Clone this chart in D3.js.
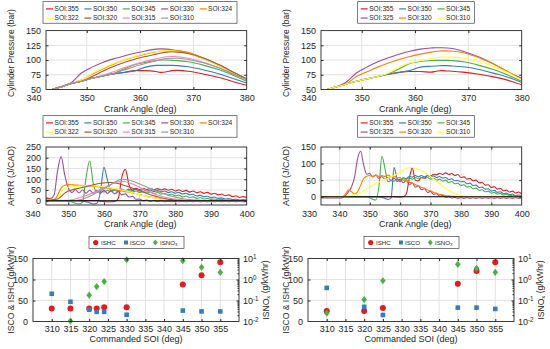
<!DOCTYPE html>
<html>
<head>
<meta charset="utf-8">
<script src="https://cdn.jsdelivr.net/npm/d3@7"></script>
<style>
  body { margin: 0; background: #fff; }
  svg { font-family: "Liberation Sans", Arial, sans-serif; background: #fff; }
</style>
</head>
<body>
<svg id="chart" width="550" height="349"></svg>
<script>
// Colours used in the figure
var cRed = "#e41a1c", cBlue = "#377eb8", cGreen = "#4daf4a", cPurple = "#984ea3",
    cOrange = "#ff7f00", cYellow = "#ffff33", cBrown = "#a65628", cPink = "#f781bf", cGrey = "#999999";
var axisColor = "#262626", gridColor = "#e2e2e2";
var fontFam = "'Liberation Sans', Arial, sans-serif";

// ---------- Cylinder pressure (bar) vs crank angle ----------
var pressCA = [343.5, 345, 347, 349, 351, 353, 355, 357, 359, 361, 363, 364, 365, 366, 367, 369, 372, 375, 378, 380];

var p1_355 = [50, 54, 60, 64, 69, 73, 76.5, 79, 82, 82, 80.5, 79, 80, 82, 82.5, 81, 76, 70, 62, 57];
var p1_350 = [50, 54, 60, 64, 69, 73, 76.5, 79, 81.5, 88, 91, 91, 91, 91, 90.5, 88.5, 83, 76, 67, 61];
var p1_345 = [50, 54, 60, 64, 69, 73, 77, 85, 92, 96, 99, 100, 100, 99.5, 99, 97, 91, 83, 72, 64];
var p1_330 = [50, 54, 61, 78, 88, 96, 102, 107, 111.5, 115.5, 118.5, 119, 118.5, 117.5, 116, 111.5, 102, 90, 76, 68];
var p1_324 = [50, 54, 60, 66, 76, 85, 93, 100, 105.5, 110, 114, 115.5, 116.5, 116.5, 116, 113, 103, 91, 77, 68];
var p1_322 = [50, 54, 60, 66, 77, 86, 94, 100.5, 106, 111, 114.5, 115.5, 116, 115.5, 114.5, 111, 102, 90, 76, 67];
var p1_320 = [50, 54, 60, 64, 72, 81, 89, 96, 101.5, 106, 110, 112, 113.5, 114, 113.5, 111, 103, 91, 77, 68];
var p1_315 = [50, 54, 60, 64, 69, 74, 80, 87, 93, 98, 102, 104, 105.5, 106, 105.5, 103, 96, 86, 74, 66];
var p1_310 = [50, 54, 60, 64, 69, 73, 77, 83, 89, 94, 99, 101, 102.5, 103, 103, 101, 95, 86, 74, 67];

var p2_355 = [50, 54, 59, 64, 68, 72, 76, 79, 80.5, 80.5, 79.5, 81, 82, 81.5, 81, 79.5, 76, 71, 64, 58];
var p2_350 = [50, 54, 59, 64, 68, 72, 76, 79, 82, 88, 89.5, 90, 90.5, 90.5, 90, 88.5, 84, 77, 69, 62];
var p2_345 = [50, 54, 59, 64, 68, 72, 77, 85, 94, 97.5, 99, 99.5, 99.5, 99.5, 99, 97, 91, 83, 72, 64];
var p2_325 = [50, 54, 62, 78, 88, 97, 104, 110, 115, 118.5, 120.5, 121, 121, 120.5, 119.5, 115, 105, 92, 77, 69];
var p2_320 = [50, 54, 59, 72, 80, 88, 95, 101, 106, 110, 113.5, 115, 115.5, 115.5, 115, 112.5, 104, 92, 77, 67];
var p2_310 = [50, 54, 59, 64, 68, 72, 78, 88, 95, 99, 102.5, 104, 105, 105, 105, 103.5, 97, 88, 76, 66];

// ---------- Apparent heat release rate (J/CAD), 1 deg grid ----------
var caMidL = d3.range(340, 401);   // 340..400
var caMidR = d3.range(330, 401);   // 330..400

var h1_355 = [0, 0, 0, 0, 0, 0, 0, 0, 0, 0,
  0, 0, 0, 0, 0, 0, 0, 0, 0, -2,
  -4, -5, -5, -4, 10, 110, 146, 75, 50, 58,
  52, 58, 52, 57, 51, 56, 50, 55, 49, 53,
  45, 51, 43, 48, 40, 45, 37, 42, 34, 39,
  30, 35, 27, 31, 23, 27, 19, 23, 15, 19,
  14];
var h1_350 = [0, 0, 0, 0, 0, 0, 0, 0, 0, 0,
  0, 0, 0, 0, -2, -5, -10, -15, -12, 40,
  155, 95, 45, 52, 46, 54, 47, 54, 47, 53,
  46, 52, 45, 50, 43, 48, 41, 45, 38, 42,
  35, 39, 31, 35, 27, 30, 22, 25, 18, 21,
  14, 17, 11, 13, 8, 10, 5, 7, 3, 5,
  3];
var h1_345 = [0, 0, 0, 0, 0, 0, 0, 0, 0, 0,
  -2, -6, -12, -15, -8, 110, 185, 80, 40, 47,
  41, 48, 42, 49, 42, 48, 41, 47, 40, 45,
  38, 44, 36, 41, 33, 38, 30, 34, 26, 30,
  23, 26, 18, 22, 14, 18, 11, 14, 8, 11,
  6, 8, 4, 6, 2, 4, 1, 3, 0, 2,
  0];
var h1_330 = [0, 0, 2, 8, 12, 10, 25, 140, 205, 120,
  60, 38, 52, 36, 50, 35, 49, 35, 48, 35,
  48, 34, 46, 32, 42, 27, 32, 17, 20, 7,
  8, 0, 3, -3, 0, -4, -1, -5, -2, -5,
  -3, -5, -3, -5, -3, -5, -3, -5, -3, -5,
  -3, -5, -3, -5, -3, -5, -3, -5, -3, -5,
  -3];
var h1_324 = [0, 0, 2, 8, 12, 8, 5, 25, 60, 72,
  75, 74, 73, 72, 71, 70, 69, 67, 65, 63,
  61, 58, 55, 52, 49, 46, 43, 40, 36, 32,
  28, 24, 20, 17, 14, 11, 8, 6, 4, 3,
  2, 1, 1, 0, 0, 0, 0, 0, 0, 0,
  0, 0, 0, 0, 0, 0, 0, 0, 0, 0,
  0];
var h1_322 = [0, 0, 0, 0, 2, 3, 2, 10, 40, 58,
  63, 65, 66, 68, 69, 70, 70, 70, 69, 67,
  65, 62, 60, 57, 54, 50, 46, 42, 37, 33,
  28, 24, 20, 16, 13, 10, 7, 5, 3, 2,
  1, 0, 0, 0, 0, 0, 0, 0, 0, 0,
  0, 0, 0, 0, 0, 0, 0, 0, 0, 0,
  0];
var h1_320 = [0, 0, 0, 5, 10, 8, 5, 8, 20, 35,
  45, 50, 55, 58, 62, 66, 70, 74, 78, 81,
  83, 85, 85, 83, 80, 75, 70, 64, 58, 52,
  46, 40, 34, 28, 23, 18, 14, 10, 7, 5,
  3, 2, 1, 0, 0, 0, 0, 0, 0, 0,
  0, 0, 0, 0, 0, 0, 0, 0, 0, 0,
  0];
var h1_315 = [0, 0, 0, 2, 4, 3, 2, 2, 2, 2,
  2, 4, 8, 13, 18, 24, 30, 37, 44, 52,
  60, 68, 76, 83, 88, 90, 88, 84, 78, 71,
  63, 55, 47, 40, 33, 27, 22, 17, 13, 10,
  7, 5, 4, 3, 2, 1, 0, 0, 0, 0,
  0, 0, 0, 0, 0, 0, 0, 0, 0, 0,
  0];
var h1_310 = [0, 0, 0, 1, 2, 2, 1, 1, 1, 1,
  1, 1, 1, 3, 8, 14, 21, 29, 38, 47,
  56, 66, 76, 86, 95, 100, 99, 96, 91, 85,
  78, 71, 64, 57, 50, 43, 37, 31, 26, 21,
  17, 13, 10, 7, 5, 4, 3, 2, 1, 0,
  0, 0, 0, 0, 0, 0, 0, 0, 0, 0,
  0];

var h2_355 = [0, 0, 0, 0, 0, 0, 0, 0, 0, 0,
  0, 0, 0, 0, 0, 0, 0, 0, 0, 0,
  0, 0, 0, 0, 0, 0, 0, 0, 0, -1,
  -1, 0, 8, 55, 87, 50, 48, 58, 56, 64,
  62, 68, 66, 71, 67, 72, 67, 70, 64, 67,
  58, 60, 53, 55, 48, 50, 42, 43, 35, 36,
  28, 30, 23, 25, 18, 20, 14, 17, 11, 14,
  8];
var h2_350 = [0, 0, 0, 0, 0, 0, 0, 0, 0, 0,
  0, 0, 0, 0, 0, 0, 0, 0, 0, 0,
  0, 0, 0, 0, -2, -5, -8, -5, 88, 55,
  45, 57, 55, 61, 59, 64, 60, 64, 60, 64,
  60, 63, 58, 61, 56, 58, 52, 54, 48, 49,
  45, 46, 39, 41, 34, 35, 28, 29, 23, 24,
  17, 19, 13, 15, 9, 11, 6, 8, 3, 5,
  1];
var h2_345 = [0, 0, 0, 0, 0, 0, 0, 0, 0, 0,
  0, 0, 0, 0, 0, 0, 0, 0, 0, 0,
  -3, -8, -10, 30, 122, 85, 45, 48, 47, 53,
  50, 56, 52, 57, 53, 58, 54, 58, 54, 58,
  53, 56, 50, 53, 47, 50, 43, 46, 39, 41,
  34, 36, 29, 31, 24, 26, 19, 21, 15, 17,
  11, 13, 8, 10, 5, 7, 3, 5, 1, 3,
  0];
var h2_325 = [-4, -4, -4, -4, -4, -4, -4, -4, -4, -4,
  -4, -3, 3, 15, 30, 60, 115, 137, 95, 68,
  70, 60, 65, 55, 61, 52, 58, 49, 56, 46,
  53, 42, 49, 36, 42, 29, 33, 21, 24, 13,
  16, 7, 9, 2, 4, -2, 0, -4, -2, -5,
  -3, -5, -3, -5, -3, -5, -3, -5, -3, -5,
  -3, -5, -3, -5, -3, -5, -3, -5, -3, -5,
  -3];
var h2_320 = [0, 0, 0, 0, 0, 0, 0, 0, 0, 0,
  0, 0, 8, 20, 15, 8, 15, 35, 55, 62,
  64, 61, 65, 61, 64, 61, 65, 60, 62, 57,
  58, 50, 50, 44, 42, 36, 34, 28, 26, 20,
  18, 13, 11, 7, 6, 3, 3, 1, 1, 0,
  0, 0, 0, 0, 0, 0, 0, 0, 0, 0,
  0, 0, 0, 0, 0, 0, 0, 0, 0, 0,
  0];
var h2_310 = [0, 0, 0, 0, 0, 0, 0, 0, 0, 0,
  0, 0, 0, 2, 5, 6, 8, 12, 18, 24,
  30, 35, 40, 44, 48, 52, 56, 60, 64, 68,
  74, 80, 85, 88, 88, 86, 83, 79, 74, 68,
  61, 54, 46, 39, 32, 25, 19, 14, 10, 6,
  4, 2, 1, 0, 0, 0, 0, 0, 0, 0,
  0, 0, 0, 0, 0, 0, 0, 0, 0, 0,
  0];

// ---------- Emissions vs commanded SOI ----------
var soiLeft = [310, 315, 320, 322, 324, 330, 345, 350, 355];
var ishcLeft = [31, 31, 31, 31, 34, 34, 88, 110, 141];
var iscoLeft = [66, 47, 28, 23, 23, 16, 26, 24, 24];
var isnoxLeft = [null, 0.0105, 0.18, 0.46, 0.8, 8.7, 7.9, 3.8, 2.2];

var soiRight = [310, 320, 325, 345, 350, 355];
var ishcRight = [25, 25, 32, 90, 120, 141];
var iscoRight = [80, 35, 15.5, 33, 33, 30];
var isnoxRight = [0.025, 0.11, 0.87, 5.3, 3.4, 2.2];

// Series lists (legend order)
var pressLeft = [
  { name: "SOI:355", color: cRed, v: p1_355 }, { name: "SOI:350", color: cBlue, v: p1_350 },
  { name: "SOI:345", color: cGreen, v: p1_345 }, { name: "SOI:330", color: cPurple, v: p1_330 },
  { name: "SOI:324", color: cOrange, v: p1_324 }, { name: "SOI:322", color: cYellow, v: p1_322 },
  { name: "SOI:320", color: cBrown, v: p1_320 }, { name: "SOI:315", color: cPink, v: p1_315 },
  { name: "SOI:310", color: cGrey, v: p1_310 }];
var pressRight = [
  { name: "SOI:355", color: cRed, v: p2_355 }, { name: "SOI:350", color: cBlue, v: p2_350 },
  { name: "SOI:345", color: cGreen, v: p2_345 }, { name: "SOI:325", color: cPurple, v: p2_325 },
  { name: "SOI:320", color: cOrange, v: p2_320 }, { name: "SOI:310", color: cYellow, v: p2_310 }];
var hrrLeft = [
  { name: "SOI:355", color: cRed, v: h1_355 }, { name: "SOI:350", color: cBlue, v: h1_350 },
  { name: "SOI:345", color: cGreen, v: h1_345 }, { name: "SOI:330", color: cPurple, v: h1_330 },
  { name: "SOI:324", color: cOrange, v: h1_324 }, { name: "SOI:322", color: cYellow, v: h1_322 },
  { name: "SOI:320", color: cBrown, v: h1_320 }, { name: "SOI:315", color: cPink, v: h1_315 },
  { name: "SOI:310", color: cGrey, v: h1_310 }];
var hrrRight = [
  { name: "SOI:355", color: cRed, v: h2_355 }, { name: "SOI:350", color: cBlue, v: h2_350 },
  { name: "SOI:345", color: cGreen, v: h2_345 }, { name: "SOI:325", color: cPurple, v: h2_325 },
  { name: "SOI:320", color: cOrange, v: h2_320 }, { name: "SOI:310", color: cYellow, v: h2_310 }];

var svg = d3.select("#chart");
var clipCount = 0;

// style an axis group drawn by d3
function styleAxis(a, size) {
  a.attr("font-family", fontFam).attr("font-size", size || 9).attr("color", axisColor);
  a.select(".domain").remove();
}

// Line chart panel (pressure / heat release)
function drawLinePanel(p) {
  var x = d3.scaleLinear().domain(p.xDomain).range(p.xRange);
  var y = d3.scaleLinear().domain(p.yDomain).range([p.bottom, p.top]);
  var bl = p.boxLeft, br = p.xRange[1];
  var g = svg.append("g");
  var inBox = function (v) { return x(v) > bl + 1 && x(v) < br - 1; };
  var inY = function (v) { return y(v) > p.top + 1 && y(v) < p.bottom - 1; };

  // grid
  g.selectAll(".gx").data(p.xTicks.filter(inBox)).enter().append("line")
    .attr("x1", function (d) { return x(d); }).attr("x2", function (d) { return x(d); })
    .attr("y1", p.top).attr("y2", p.bottom).attr("stroke", gridColor);
  g.selectAll(".gy").data(p.yTicks.filter(inY)).enter().append("line")
    .attr("x1", bl).attr("x2", br)
    .attr("y1", function (d) { return y(d); }).attr("y2", function (d) { return y(d); })
    .attr("stroke", gridColor);

  // curves, clipped to the axes box
  var clipId = "clip" + (clipCount++);
  svg.append("clipPath").attr("id", clipId).append("rect")
    .attr("x", bl).attr("y", p.top).attr("width", br - bl).attr("height", p.bottom - p.top);
  var line = d3.line()
    .x(function (d, i) { return x(p.xs[i]); })
    .y(function (d) { return y(d); })
    .curve(d3.curveMonotoneX);
  var lg = g.append("g").attr("clip-path", "url(#" + clipId + ")");
  p.series.forEach(function (s) {
    lg.append("path").datum(s.v).attr("d", line)
      .attr("fill", "none").attr("stroke", s.color).attr("stroke-width", 1.1);
  });
  if (p.zeroLine) {
    lg.append("line").attr("x1", bl).attr("x2", br).attr("y1", y(0)).attr("y2", y(0))
      .attr("stroke", "#000").attr("stroke-width", 1.1);
  }

  // inward tick marks
  var xt = p.xTicks.filter(inBox), yt = p.yTicks.filter(inY);
  g.append("g").attr("transform", "translate(0," + p.bottom + ")")
    .call(d3.axisTop(x).tickValues(xt).tickSize(2.5).tickFormat(""))
    .call(function (a) { styleAxis(a); });
  g.append("g").attr("transform", "translate(0," + p.top + ")")
    .call(d3.axisBottom(x).tickValues(xt).tickSize(2.5).tickFormat(""))
    .call(function (a) { styleAxis(a); });
  g.append("g").attr("transform", "translate(" + bl + ",0)")
    .call(d3.axisRight(y).tickValues(yt).tickSize(2.5).tickFormat(""))
    .call(function (a) { styleAxis(a); });
  g.append("g").attr("transform", "translate(" + br + ",0)")
    .call(d3.axisLeft(y).tickValues(yt).tickSize(2.5).tickFormat(""))
    .call(function (a) { styleAxis(a); });

  // tick labels
  g.append("g").attr("transform", "translate(0," + p.bottom + ")")
    .call(d3.axisBottom(x).tickValues(p.xTicks).tickSize(0).tickPadding(5.5))
    .call(function (a) { styleAxis(a); });
  g.append("g").attr("transform", "translate(" + bl + ",0)")
    .call(d3.axisLeft(y).tickValues(p.yTicks).tickSize(0).tickPadding(5))
    .call(function (a) { styleAxis(a); });

  // box
  g.append("rect").attr("x", bl).attr("y", p.top).attr("width", br - bl).attr("height", p.bottom - p.top)
    .attr("fill", "none").attr("stroke", axisColor).attr("stroke-width", 0.9);

  // axis titles
  g.append("text").attr("x", (bl + br) / 2 + p.xTitleShift).attr("y", p.bottom + 22)
    .attr("text-anchor", "middle").attr("font-size", 9).attr("fill", axisColor).text("Crank Angle (deg)");
  g.append("text")
    .attr("transform", "translate(" + p.yTitleX + "," + p.yTitleY + ") rotate(-90)")
    .attr("text-anchor", "middle").attr("font-size", p.yTitleSize).attr("fill", axisColor).text(p.yTitle);

  // legend
  var lx = p.legend[0], ly = p.legend[1], lw = p.legend[2], lh = 21.5;
  var cols = p.series.length > 6 ? 5 : 3;
  var leg = g.append("g");
  leg.append("rect").attr("x", lx).attr("y", ly).attr("width", lw).attr("height", lh)
    .attr("fill", "#fff").attr("stroke", axisColor).attr("stroke-width", 0.6);
  p.series.forEach(function (s, i) {
    var tx = lx + 11.5 + (i % cols) * 38.4;
    var ty = ly + 7.2 + Math.floor(i / cols) * 9.2;
    leg.append("line").attr("x1", tx - 8.5).attr("x2", tx - 1.5).attr("y1", ty).attr("y2", ty)
      .attr("stroke", s.color).attr("stroke-width", 1.2);
    leg.append("text").attr("x", tx).attr("y", ty).attr("dy", "0.35em")
      .attr("font-size", 6.6).attr("fill", axisColor).text(s.name);
  });
}

// Scatter panel with a log right axis (emissions)
function drawEmissionPanel(p) {
  var x = d3.scaleLinear().domain([305, 360]).range(p.xRange);
  var y = d3.scaleLinear().domain([0, 150]).range([p.bottom, p.top]);
  var yLog = d3.scaleLog().domain([0.01, 10]).range([p.bottom, p.top]);
  var bl = p.xRange[0], br = p.xRange[1];
  var g = svg.append("g");
  var soiTicks = d3.range(310, 356, 5);

  // grid
  g.selectAll(".gx").data(soiTicks).enter().append("line")
    .attr("x1", function (d) { return x(d); }).attr("x2", function (d) { return x(d); })
    .attr("y1", p.top).attr("y2", p.bottom).attr("stroke", gridColor);
  g.selectAll(".gy").data([50, 100]).enter().append("line")
    .attr("x1", bl).attr("x2", br)
    .attr("y1", function (d) { return y(d); }).attr("y2", function (d) { return y(d); })
    .attr("stroke", gridColor);

  // markers
  var pts = p.soi.map(function (s, i) { return { soi: s, hc: p.hc[i], co: p.co[i], nox: p.nox[i] }; });
  g.selectAll(".hc").data(pts).enter().append("circle")
    .attr("cx", function (d) { return x(d.soi); }).attr("cy", function (d) { return y(d.hc); })
    .attr("r", 3).attr("fill", cRed);
  g.selectAll(".co").data(pts).enter().append("rect")
    .attr("x", function (d) { return x(d.soi) - 2.3; }).attr("y", function (d) { return y(d.co) - 2.3; })
    .attr("width", 4.6).attr("height", 4.6).attr("fill", cBlue);
  g.selectAll(".nox").data(pts.filter(function (d) { return d.nox != null; })).enter().append("path")
    .attr("d", "M0,-3.6L2.8,0L0,3.6L-2.8,0Z")
    .attr("transform", function (d) { return "translate(" + x(d.soi) + "," + yLog(d.nox) + ")"; })
    .attr("fill", cGreen);

  // inward ticks
  g.append("g").attr("transform", "translate(0," + p.bottom + ")")
    .call(d3.axisTop(x).tickValues(soiTicks).tickSize(2.5).tickFormat(""))
    .call(function (a) { styleAxis(a); });
  g.append("g").attr("transform", "translate(0," + p.top + ")")
    .call(d3.axisBottom(x).tickValues(soiTicks).tickSize(2.5).tickFormat(""))
    .call(function (a) { styleAxis(a); });
  g.append("g").attr("transform", "translate(" + bl + ",0)")
    .call(d3.axisRight(y).tickValues([50, 100]).tickSize(2.5).tickFormat(""))
    .call(function (a) { styleAxis(a); });
  var minor = [];
  [0.01, 0.1, 1].forEach(function (dec) { for (var k = 2; k <= 9; k++) minor.push(dec * k); });
  g.append("g").attr("transform", "translate(" + br + ",0)")
    .call(d3.axisLeft(yLog).tickValues([0.1, 1]).tickSize(2.5).tickFormat(""))
    .call(function (a) { styleAxis(a); });
  g.append("g").attr("transform", "translate(" + br + ",0)")
    .call(d3.axisLeft(yLog).tickValues(minor).tickSize(1.5).tickFormat(""))
    .call(function (a) { styleAxis(a); });

  // tick labels
  g.append("g").attr("transform", "translate(0," + p.bottom + ")")
    .call(d3.axisBottom(x).tickValues(soiTicks).tickSize(0).tickPadding(4))
    .call(function (a) { styleAxis(a); });
  g.append("g").attr("transform", "translate(" + bl + ",0)")
    .call(d3.axisLeft(y).tickValues([0, 50, 100, 150]).tickSize(0).tickPadding(5))
    .call(function (a) { styleAxis(a); });
  g.append("g").attr("transform", "translate(" + br + ",0)")
    .call(d3.axisRight(yLog).tickValues([0.01, 0.1, 1, 10]).tickSize(0).tickPadding(4))
    .call(function (a) {
      styleAxis(a);
      a.selectAll(".tick text").each(function (d) {
        var t = d3.select(this);
        t.text("10");
        t.append("tspan").attr("dy", "-0.45em").attr("font-size", 6.3)
          .text(String(Math.round(Math.log10(d))));
      });
    });

  // box
  g.append("rect").attr("x", bl).attr("y", p.top).attr("width", br - bl).attr("height", p.bottom - p.top)
    .attr("fill", "none").attr("stroke", axisColor).attr("stroke-width", 0.9);

  // titles
  g.append("text").attr("x", (bl + br) / 2).attr("y", p.bottom + 20.5)
    .attr("text-anchor", "middle").attr("font-size", 9).attr("fill", axisColor).text("Commanded SOI (deg)");
  g.append("text")
    .attr("transform", "translate(" + (bl - 19.5) + "," + ((p.top + p.bottom) / 2) + ") rotate(-90)")
    .attr("text-anchor", "middle").attr("font-size", 8.6).attr("fill", axisColor).text("ISCO & ISHC (g/kWhr)");
  var rt = g.append("text")
    .attr("transform", "translate(" + (br + 29.5) + "," + ((p.top + p.bottom) / 2) + ") rotate(-90)")
    .attr("text-anchor", "middle").attr("font-size", 8.6).attr("fill", axisColor);
  rt.append("tspan").text("ISNO");
  rt.append("tspan").attr("dy", "0.3em").attr("font-size", 6).text("x");
  rt.append("tspan").attr("dy", "-0.3em").text(" (g/kWhr)");

  // legend
  var lx = bl + 56, ly = p.top - 22;
  var leg = g.append("g");
  leg.append("rect").attr("x", lx).attr("y", ly).attr("width", 95).attr("height", 12)
    .attr("fill", "#fff").attr("stroke", axisColor).attr("stroke-width", 0.6);
  var cy = ly + 6;
  leg.append("circle").attr("cx", lx + 6.7).attr("cy", cy).attr("r", 2.6).attr("fill", cRed);
  leg.append("text").attr("x", lx + 12).attr("y", cy).attr("dy", "0.35em").attr("font-size", 6.2)
    .attr("fill", axisColor).text("ISHC");
  leg.append("rect").attr("x", lx + 35).attr("y", cy - 2).attr("width", 4).attr("height", 4).attr("fill", cBlue);
  leg.append("text").attr("x", lx + 41).attr("y", cy).attr("dy", "0.35em").attr("font-size", 6.2)
    .attr("fill", axisColor).text("ISCO");
  leg.append("path").attr("d", "M0,-3L2.4,0L0,3L-2.4,0Z")
    .attr("transform", "translate(" + (lx + 66.3) + "," + cy + ")").attr("fill", cGreen);
  var nt = leg.append("text").attr("x", lx + 71).attr("y", cy).attr("dy", "0.35em").attr("font-size", 6.2)
    .attr("fill", axisColor);
  nt.append("tspan").text("ISNO");
  nt.append("tspan").attr("dy", "0.35em").attr("font-size", 4.5).text("x");
}

// top row: cylinder pressure
drawLinePanel({ xs: pressCA, series: pressLeft, xDomain: [340, 380], xRange: [33.4, 246.7], boxLeft: 46,
  yDomain: [50, 150], top: 30.6, bottom: 89.5, xTicks: [340, 350, 360, 370, 380], yTicks: [50, 75, 100, 125, 150],
  yTitle: "Cylinder Pressure (bar)", yTitleSize: 8.5, yTitleX: 14, yTitleY: 53, xTitleShift: -6, legend: [43, 1.7, 194] });
drawLinePanel({ xs: pressCA, series: pressRight, xDomain: [340, 380], xRange: [308.4, 521.7], boxLeft: 321,
  yDomain: [50, 150], top: 30.6, bottom: 89.5, xTicks: [340, 350, 360, 370, 380], yTicks: [50, 75, 100, 125, 150],
  yTitle: "Cylinder Pressure (bar)", yTitleSize: 8.5, yTitleX: 289, yTitleY: 53, xTitleShift: -6, legend: [357.7, 1.7, 116.6] });

// middle row: heat release rate
drawLinePanel({ xs: caMidL, series: hrrLeft, xDomain: [340, 400], xRange: [32.6, 246.7], boxLeft: 46,
  yDomain: [-20, 250], top: 147, bottom: 205, xTicks: d3.range(340, 401, 10), yTicks: [0, 50, 100, 150, 200, 250],
  yTitle: "AHRR (J/CAD)", yTitleSize: 9, yTitleX: 14, yTitleY: 176, xTitleShift: -6, zeroLine: true, legend: [43, 115.7, 194] });
drawLinePanel({ xs: caMidR, series: hrrRight, xDomain: [330, 400], xRange: [309, 521.7], boxLeft: 321,
  yDomain: [-25, 150], top: 147, bottom: 205, xTicks: d3.range(330, 401, 10), yTicks: [0, 50, 100, 150],
  yTitle: "AHRR (J/CAD)", yTitleSize: 9, yTitleX: 289, yTitleY: 176, xTitleShift: -6, zeroLine: true, legend: [357.7, 115.7, 116.6] });

// bottom row: emissions
drawEmissionPanel({ soi: soiLeft, hc: ishcLeft, co: iscoLeft, nox: isnoxLeft, xRange: [33, 239], top: 258.5, bottom: 321.5 });
drawEmissionPanel({ soi: soiRight, hc: ishcRight, co: iscoRight, nox: isnoxRight, xRange: [308, 514], top: 258.5, bottom: 321.5 });
</script>
</body>
</html>
